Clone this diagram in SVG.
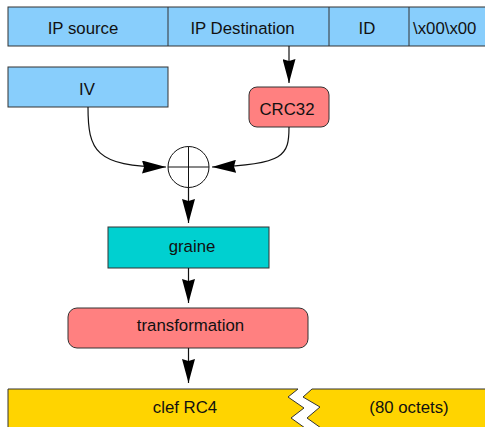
<svg xmlns="http://www.w3.org/2000/svg" width="485" height="427" viewBox="0 0 485 427">
<style>
.t{font-family:"Liberation Sans",Arial,sans-serif;font-size:16.8px;fill:#111;text-anchor:middle}
.b{stroke:#333;stroke-width:1}
.blue{fill:#88CEFC}
.pink{fill:#FF8080}
.teal{fill:#00D0D0}
.yel{fill:#FFD400}
.c{fill:none;stroke:#111;stroke-width:1.2}
</style>
<defs>
<marker id="ah" viewBox="0 0 24 13" refX="24" refY="6.5" markerWidth="24" markerHeight="13" markerUnits="userSpaceOnUse" orient="auto">
<path d="M0,0 L24,6.5 L0,13 L2,6.5 Z" fill="#000"/>
</marker>
</defs>
<rect width="485" height="427" fill="#fff"/>
<g id="header">
<rect class="b blue" x="8" y="7" width="490" height="39"/>
<line class="b" x1="168" y1="7" x2="168" y2="46"/>
<line class="b" x1="329" y1="7" x2="329" y2="46"/>
<line class="b" x1="409" y1="7" x2="409" y2="46"/>
<text class="t" x="83" y="34">IP source</text>
<text class="t" x="242.5" y="34">IP Destination</text>
<text class="t" x="367" y="34">ID</text>
<text class="t" x="413" y="34" style="text-anchor:start">\x00\x00</text>
</g>
<g id="iv">
<rect class="b blue" x="8" y="67" width="160" height="40"/>
<text class="t" x="87" y="95">IV</text>
</g>
<g id="crc32">
<rect class="b pink" x="249" y="87" width="80" height="40" rx="8"/>
<text class="t" x="287" y="115">CRC32</text>
</g>
<g id="xor">
<circle cx="188.5" cy="167" r="20.5" fill="#fff" stroke="#111" stroke-width="1"/>
<line x1="168" y1="167" x2="209" y2="167" stroke="#111"/>
<line x1="188.5" y1="146.5" x2="188.5" y2="187.5" stroke="#111"/>
</g>
<g id="graine">
<rect class="b teal" x="108" y="227" width="161" height="41"/>
<text class="t" x="192" y="252">graine</text>
</g>
<g id="transformation">
<rect class="b pink" x="68" y="308" width="240" height="40" rx="9"/>
<text class="t" x="190.5" y="331">transformation</text>
</g>
<g id="clef">
<path class="b yel" d="M8,440 L8,389 L298,389 L288,397 L304,408 L291,418 L305,428 L307,440 Z"/>
<path class="b yel" d="M490,389 L312,389 L303,397 L320,407 L307,418 L321,428 L323,440 L490,440 Z"/>
<text class="t" x="185" y="413">clef RC4</text>
<text class="t" x="409" y="413">(80 octets)</text>
</g>
<g id="connectors">
<path class="c" d="M289,46 L289,83" marker-end="url(#ah)"/>
<path class="c" d="M88,107 C88,150 95,167 166,167" marker-end="url(#ah)"/>
<path class="c" d="M289,127 C289,155 285,165 212,167" marker-end="url(#ah)"/>
<path class="c" d="M188.5,187.5 L188.5,223" marker-end="url(#ah)"/>
<path class="c" d="M188.5,268 L188.5,303" marker-end="url(#ah)"/>
<path class="c" d="M188.5,348 L188.5,383" marker-end="url(#ah)"/>
</g>
</svg>
